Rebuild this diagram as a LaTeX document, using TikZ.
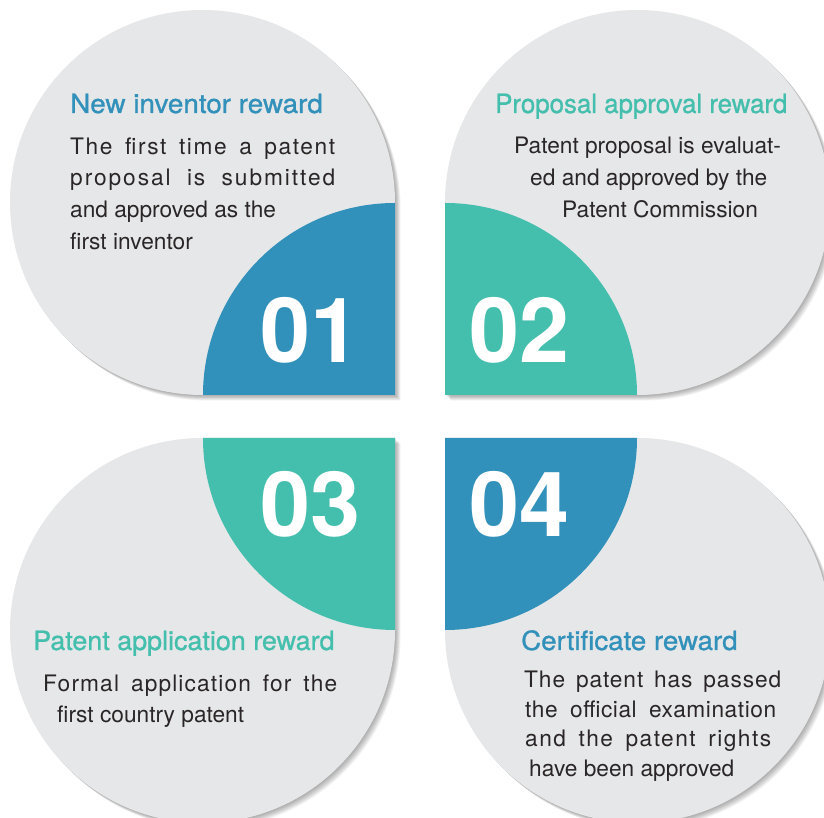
\documentclass[tikz,border=0pt]{standalone}
\usepackage{fontspec}
\setmainfont{TeX Gyre Heros}
\newfontfamily\titlefont{TeX Gyre Heros}[FakeBold=1.0]
\newfontfamily\bodyfont{TeX Gyre Heros}
\definecolor{cblue}{HTML}{3291BA}
\definecolor{cgreen}{HTML}{45BFAD}
\definecolor{cgray}{HTML}{E6E7E8}
\definecolor{ctext}{HTML}{2A2627}
\newcommand\petalA{(395,615.5) -- (395,423) -- (202.5,423) arc[start angle=270,end angle=0,radius=192.5pt] -- cycle}
\newcommand\petalB{(445,615.5) -- (445,423) -- (637.5,423) arc[start angle=270,end angle=540,radius=192.5pt] -- cycle}
\newcommand\petalC{(395,187.5) -- (395,380) -- (202.5,380) arc[start angle=90,end angle=360,radius=192.5pt] -- cycle}
\newcommand\petalD{(445,187.5) -- (445,380) -- (637.5,380) arc[start angle=90,end angle=-180,radius=192.5pt] -- cycle}
\newcommand\spreadline[3]{{\addfontfeature{LetterSpace=#1}\makebox[#2][s]{#3}}}
\tikzset{
  titletext/.style={anchor=base west, inner sep=0pt, font=\titlefont\fontsize{26.5}{30}\selectfont},
  bodytext/.style={anchor=base west, inner sep=0pt, text=ctext, font=\bodyfont\fontsize{22.7}{27}\selectfont},
  numtext/.style={anchor=base west, inner sep=0pt, text=white, font=\bfseries\fontsize{90}{90}\selectfont},
  petalfill/.style={fill=cgray},
}
\begin{document}
\begin{tikzpicture}[x=1pt,y=1pt]
\useasboundingbox (0,0) rectangle (824,818);
\clip (0,0) rectangle (824,818);
\fill[white] (0,0) rectangle (824,818);
% shadows
\foreach \k in {1,...,8}{
  \fill[black, opacity=0.045, xshift=\k*0.7pt, yshift=-\k*0.7pt] \petalA;
  \fill[black, opacity=0.045, xshift=\k*0.7pt, yshift=-\k*0.7pt] \petalB;
  \fill[black, opacity=0.045, xshift=\k*0.7pt, yshift=-\k*0.7pt] \petalC;
  \fill[black, opacity=0.045, xshift=\k*0.7pt, yshift=-\k*0.7pt] \petalD;
}
% petals
\fill[petalfill] \petalA;
\fill[petalfill] \petalB;
\fill[petalfill] \petalC;
\fill[petalfill] \petalD;
% coloured quarter discs
\fill[cblue]  (395,423) -- (203,423) arc[start angle=180,end angle=90,radius=192pt] -- cycle;
\fill[cgreen] (445,423) -- (637,423) arc[start angle=0,end angle=90,radius=192pt] -- cycle;
\fill[cgreen] (395,380) -- (203,380) arc[start angle=180,end angle=270,radius=192pt] -- cycle;
\fill[cblue]  (445,380) -- (637,380) arc[start angle=0,end angle=-90,radius=192pt] -- cycle;
% numbers
\node[numtext] (n1) at (260,455) {01};
\node[numtext] (n2) at (469,455) {02};
\node[numtext] (n3) at (260,281) {03};
\node[numtext] (n4) at (469,281) {04};
% block 1
\node[titletext, text=cblue] (t1) at (70,705) {\scalebox{1.05}[1]{New inventor reward}};
\node[bodytext] (b1a) at (70,663) {\spreadline{7}{265pt}{The first time a patent}};
\node[bodytext] (b1b) at (70,632) {\spreadline{8.5}{265pt}{proposal is submitted}};
\node[bodytext] (b1c) at (70,600) {and approved as the};
\node[bodytext] (b1d) at (70,568) {first inventor};
% block 2
\node[titletext, text=cgreen] (t2) at (495,705) {\scalebox{0.975}[1]{Proposal approval reward}};
\node[bodytext] (b2a) at (514,664) {Patent proposal is evaluat-};
\node[bodytext] (b2b) at (530,632) {ed and approved by the};
\node[bodytext] (b2c) at (562,600) {Patent Commission};
% block 3
\node[titletext, text=cgreen] (t3) at (33,168) {\scalebox{1.015}[1]{Patent application reward}};
\node[bodytext] (b3a) at (43,126) {\spreadline{5}{294pt}{Formal application for the}};
\node[bodytext] (b3b) at (57,95) {first country patent};
% block 4
\node[titletext, text=cblue] (t4) at (521,168) {\scalebox{1.045}[1]{Certificate reward}};
\node[bodytext] (b4a) at (524,130) {\spreadline{4}{257pt}{The patent has passed}};
\node[bodytext] (b4b) at (525,100) {\spreadline{2.5}{251pt}{the official examination}};
\node[bodytext] (b4c) at (525,71) {\spreadline{6.5}{246pt}{and the patent rights}};
\node[bodytext] (b4d) at (529,41) {have been approved};
\end{tikzpicture}
\end{document}
